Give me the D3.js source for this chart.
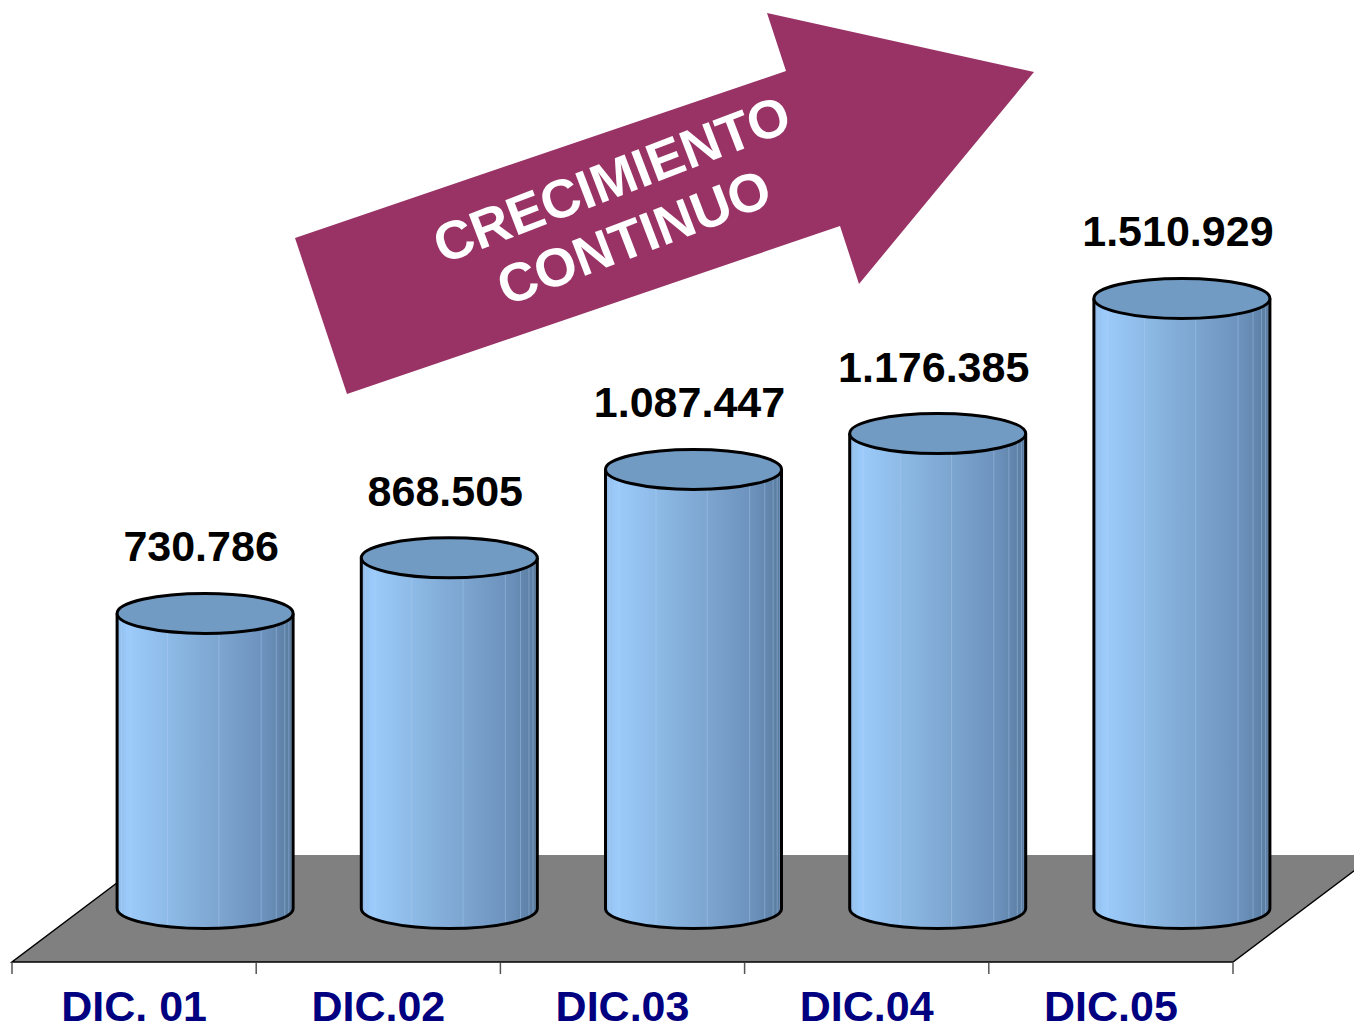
<!DOCTYPE html>
<html lang="es">
    <head>
        <meta charset="utf-8">
        <title>Crecimiento continuo</title>
        <script type="text/javascript" src="https://cdn.jsdelivr.net/npm/d3@7/dist/d3.min.js"></script>
        <style>
            body { margin: 0; background: #fff; }
        </style>
    </head>
    <body>
        <script type="text/javascript">

            // data
            var categories = ["DIC. 01", "DIC.02", "DIC.03", "DIC.04", "DIC.05"];
            var values = [730786, 868505, 1087447, 1176385, 1510929];
            var arrowLines = ["CRECIMIENTO", "CONTINUO"];

            var w = 1354;
            var h = 1031;
            var font = "'Liberation Sans', Arial, sans-serif";

            // floor geometry (front edge + depth offset)
            var floorFront = 962;
            var depthX = 142, depthY = -107;
            var rx = 88, ry = 20;

            var svg = d3.select("body")
                .append("svg")
                .attr("width", w)
                .attr("height", h);

            var x = d3.scaleBand()
                .domain(categories)
                .range([12, 1233])
                .padding(0);

            // bars stand in the middle of the floor depth
            var baseY = floorFront + depthY / 2;
            var y = d3.scaleLinear()
                .domain([0, 1600000])
                .range([baseY, baseY - 646]);

            var fmt = d3.formatLocale({decimal: ",", thousands: ".", grouping: [3], currency: ["", ""]}).format(",d");

            //gradient for cylinder body
            var defs = svg.append("defs");
            var grad = defs.append("linearGradient")
                .attr("id", "cyl")
                .attr("x1", "0%").attr("x2", "100%")
                .attr("y1", "0%").attr("y2", "0%");
            [["0%", "#8fbbe8"], ["6%", "#9ccbfb"], ["25%", "#90bdea"], ["55%", "#7ea7d2"],
             ["85%", "#6b91bb"], ["100%", "#587a9d"]].forEach(function(s) {
                grad.append("stop").attr("offset", s[0]).attr("stop-color", s[1]);
            });

            // floor
            var x0 = x.range()[0], x1 = x.range()[1];
            svg.append("path")
                .attr("d", "M" + x0 + "," + floorFront +
                    "L" + x1 + "," + floorFront +
                    "L" + (x1 + depthX) + "," + (floorFront + depthY) +
                    "L" + (x0 + depthX) + "," + (floorFront + depthY) + "Z")
                .attr("fill", "#808080");
            svg.append("path")
                .attr("d", "M" + (x0 + depthX) + "," + (floorFront + depthY) +
                    "L" + x0 + "," + floorFront +
                    "L" + x1 + "," + floorFront +
                    "L" + (x1 + depthX) + "," + (floorFront + depthY))
                .attr("fill", "none")
                .attr("stroke", "#000")
                .attr("stroke-width", 1.5);

            // category axis
            var axis = svg.append("g")
                .attr("transform", "translate(0," + floorFront + ")")
                .call(d3.axisBottom(x).tickSize(0).tickFormat(""));
            axis.select(".domain").remove();
            var bounds = categories.map(function(c) { return x(c); }).concat([x1]);
            axis.selectAll("line.bound")
                .data(bounds)
                .enter()
                .append("line")
                .attr("x1", function(d) { return d; })
                .attr("x2", function(d) { return d; })
                .attr("y1", 1)
                .attr("y2", 12)
                .attr("stroke", "#555")
                .attr("stroke-width", 1.5);

            svg.selectAll("text.cat")
                .data(categories)
                .enter()
                .append("text")
                .attr("class", "cat")
                .text(function(d) { return d; })
                .attr("x", function(d) { return x(d) + x.bandwidth() / 2; })
                .attr("y", 1021)
                .attr("text-anchor", "middle")
                .attr("font-family", font)
                .attr("font-weight", "bold")
                .attr("font-size", 43)
                .attr("fill", "#000080");

            // cylinders
            function cx(d, i) { return x(categories[i]) + x.bandwidth() / 2 + depthX / 2; }

            var bars = svg.selectAll("g.bar")
                .data(values)
                .enter()
                .append("g")
                .attr("class", "bar");

            bars.append("path")
                .attr("d", function(d, i) {
                    var c = cx(d, i), top = y(d), bot = y(0);
                    return "M" + (c - rx) + "," + top +
                        "L" + (c - rx) + "," + bot +
                        "A" + rx + "," + ry + " 0 0 0 " + (c + rx) + "," + bot +
                        "L" + (c + rx) + "," + top + "Z";
                })
                .attr("fill", "url(#cyl)");

            // faint facet lines
            var facets = [0.05, 0.1, 0.18, 0.36, 0.55, 0.72, 0.8, 0.86, 0.9, 0.94];
            bars.each(function(d, i) {
                var g = d3.select(this);
                var c = cx(d, i);
                facets.forEach(function(f) {
                    var a = Math.PI * (1 - f);
                    var fx = c + rx * Math.cos(a);
                    var dy = ry * Math.sin(a);
                    g.append("line")
                        .attr("x1", fx).attr("x2", fx)
                        .attr("y1", y(d) + dy).attr("y2", y(0) + dy)
                        .attr("stroke", "#b8d8f8")
                        .attr("stroke-opacity", 0.35)
                        .attr("stroke-width", 1);
                });
            });

            bars.append("path")
                .attr("d", function(d, i) {
                    var c = cx(d, i), top = y(d), bot = y(0);
                    return "M" + (c - rx) + "," + top +
                        "L" + (c - rx) + "," + bot +
                        "A" + rx + "," + ry + " 0 0 0 " + (c + rx) + "," + bot +
                        "L" + (c + rx) + "," + top;
                })
                .attr("fill", "none")
                .attr("stroke", "#000")
                .attr("stroke-width", 3)
                .attr("stroke-linejoin", "round");

            bars.append("ellipse")
                .attr("cx", cx)
                .attr("cy", function(d) { return y(d); })
                .attr("rx", rx)
                .attr("ry", ry)
                .attr("fill", "#729bc4")
                .attr("stroke", "#000")
                .attr("stroke-width", 3);

            bars.append("text")
                .text(function(d) { return fmt(d); })
                .attr("x", function(d, i) { return cx(d, i) - 4; })
                .attr("y", function(d) { return y(d) - ry - 32; })
                .attr("text-anchor", "middle")
                .attr("font-family", font)
                .attr("font-weight", "bold")
                .attr("font-size", 43)
                .attr("fill", "#000");

            // arrow
            svg.append("polygon")
                .attr("points", [[295, 238], [786, 71], [767, 13], [1034, 72], [859, 284], [840, 226], [347, 394]]
                    .map(function(p) { return p.join(","); }).join(" "))
                .attr("fill", "#993366");

            var arrowText = svg.append("g")
                .attr("transform", "translate(622,206) rotate(-21)");
            arrowText.selectAll("text")
                .data(arrowLines)
                .enter()
                .append("text")
                .text(function(d) { return d; })
                .attr("x", 0)
                .attr("y", function(d, i) { return i * 62 - 10; })
                .attr("text-anchor", "middle")
                .attr("font-family", font)
                .attr("font-weight", "bold")
                .attr("font-size", 54)
                .attr("fill", "#fff");

        </script>
    </body>
</html>
